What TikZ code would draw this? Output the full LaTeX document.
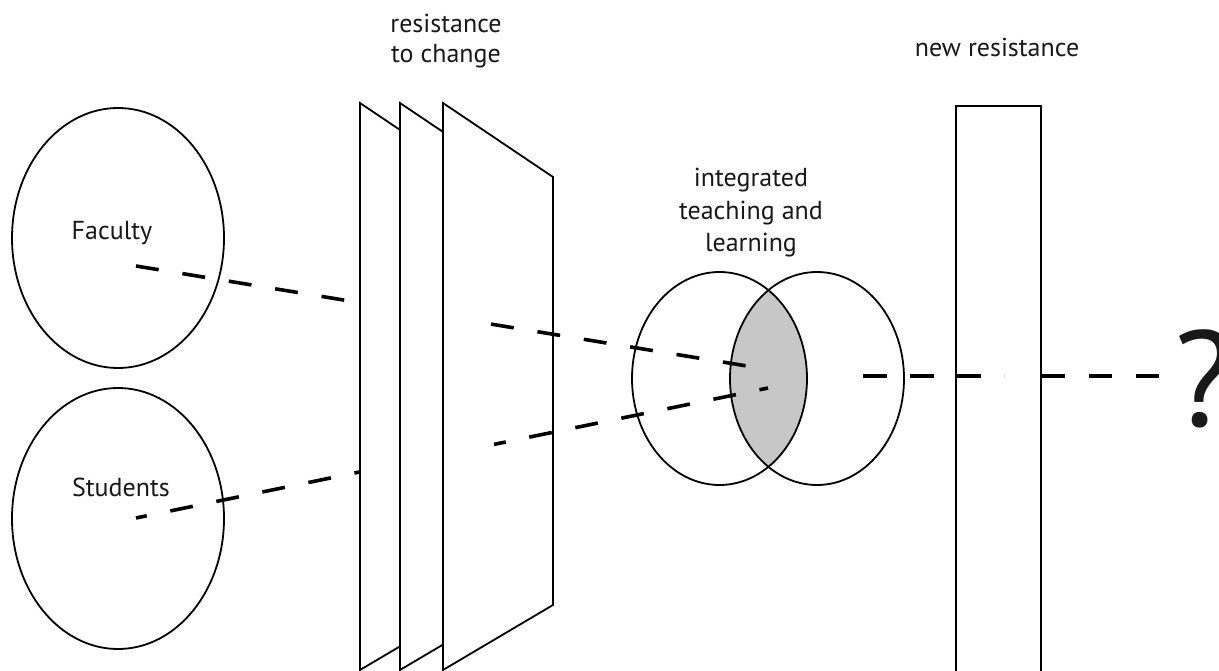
\documentclass[tikz,border=0pt]{standalone}
\usepackage{fontspec}
\setmainfont{PT Sans}
\usetikzlibrary{shapes.geometric}
\begin{document}
\begin{tikzpicture}[x=1pt,y=-1pt,
  outline/.style={draw=black, line width=1.8pt},
  panel/.style={outline, fill=white, line join=miter},
  blob/.style={ellipse, outline, inner sep=0pt},
  link/.style={line width=3.6pt, dash pattern=on 23pt off 24pt},
  lbl/.style={font=\fontsize{26}{32.5}\selectfont, inner sep=0pt, align=center, text=black!90}]
\useasboundingbox (0,0) rectangle (1219,671);
\fill[white] (0,0) rectangle (1219,671);

% actors
\node[blob, minimum width=212pt, minimum height=260pt] (fac) at (118,238) {};
\node[blob, minimum width=212pt, minimum height=261pt] (stu) at (118,518.5) {};
\node[lbl, anchor=base] (factxt) at (112,240) {Faculty};
\node[lbl, anchor=base] (stutxt) at (121,496) {Students};

% dashed paths from actors
\coordinate (fa) at (136,266);
\coordinate (fb) at (360,302.7);
\coordinate (fc) at (491,324.1);
\coordinate (fe) at (747,366);
\coordinate (sa) at (136,518);
\coordinate (sb) at (360,471.9);
\coordinate (sc) at (494,444.4);
\coordinate (se) at (768,388);
\draw[link] (fa) -- (fb);
\draw[link, dash phase=12pt] (sa) -- (sb);

% resistance panels
\foreach \L in {360,400,443}{
  \draw[panel] (\L,103) -- ++(110,74) -- ++(0,428) -- (\L,670) -- cycle;
}
\node[lbl, anchor=base, font=\fontsize{26}{30}\selectfont] (rtc) at (446,63) {resistance\\to change};

% integrated teaching and learning
\begin{scope}
  \clip (719.5,378.5) ellipse [x radius=87.5pt, y radius=106.5pt];
  \fill[black!22] (817,378.5) ellipse [x radius=87pt, y radius=106.5pt];
\end{scope}
\node[blob, minimum width=175pt, minimum height=213pt] (vl) at (719.5,378.5) {};
\node[blob, minimum width=174pt, minimum height=213pt] (vr) at (817,378.5) {};
\node[lbl, anchor=base] (itl) at (751,252) {integrated\\teaching and\\learning};

\draw[link] (fc) -- (fe);
\draw[link, dash phase=11pt] (sc) -- (se);

% new resistance
\node[draw=black, line width=1.8pt, fill=white, inner sep=0pt, minimum width=85pt, minimum height=580pt, anchor=north west] (nr) at (955,105) {};
\node[lbl, anchor=base] (nrt) at (997,57) {new resistance};

\coordinate (ha) at (863,376);
\coordinate (hb) at (1004,376);
\coordinate (hc) at (nr.east |- ha);
\coordinate (hd) at (1181,376);
\draw[link, dash pattern=on 23.5pt off 23.5pt] (ha) -- (hb);
\draw[link, dash pattern=on 23.5pt off 23.5pt] (hc) -- (hd);

\node[font=\fontsize{136}{136}\selectfont, inner sep=0pt, anchor=base, text=black!90] (q) at (1204,426) {?};
\end{tikzpicture}
\end{document}
